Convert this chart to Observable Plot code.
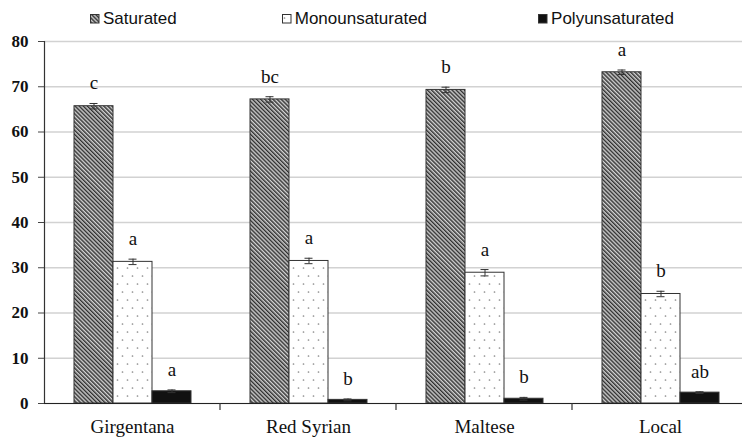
<!DOCTYPE html>
<html>
<head>
<meta charset="utf-8">
<script src="https://cdn.jsdelivr.net/npm/d3@7"></script>
<script src="https://cdn.jsdelivr.net/npm/@observablehq/plot@0.6"></script>
<style>
  html, body { margin: 0; padding: 0; background: #fff; }
  #wrap { width: 742px; height: 437px; position: relative; overflow: hidden; }
  #legend { height: 32px; box-sizing: border-box; padding-top: 5px; display: flex; align-items: center; padding-left: 90px; gap: 105px;
    font-family: "Liberation Sans", Arial, sans-serif; font-size: 17px; color: #111; }
  #legend .item { display: flex; align-items: center; gap: 3px; white-space: nowrap; }
  #legend .item:last-child { margin-left: 6px; }
  #legend svg { display: block; }
</style>
</head>
<body>
<svg width="0" height="0" style="position:absolute">
  <defs>
    <pattern id="hatch" patternUnits="userSpaceOnUse" width="2.9" height="2.9" patternTransform="rotate(-45)">
      <rect width="2.9" height="2.9" fill="#d2d2d2"></rect>
      <rect width="1.45" height="2.9" fill="#303030"></rect>
    </pattern>
    <pattern id="dots" patternUnits="userSpaceOnUse" width="10" height="16">
      <rect width="10" height="16" fill="#fff"></rect>
      <circle cx="2.5" cy="4" r="0.85" fill="#8a8a8a"></circle>
      <circle cx="7.5" cy="12" r="0.85" fill="#8a8a8a"></circle>
    </pattern>
  </defs>
</svg>
<div id="wrap">
  <div id="legend"></div>
  <div id="chart"></div>
</div>
<script>
const categories = ["Girgentana", "Red Syrian", "Maltese", "Local"];
const series = ["Saturated", "Monounsaturated", "Polyunsaturated"];
const saturated = [65.7, 67.2, 69.3, 73.2];
const saturatedErr = [0.6, 0.6, 0.6, 0.5];
const monounsaturated = [31.3, 31.5, 28.9, 24.2];
const monounsaturatedErr = [0.6, 0.6, 0.7, 0.6];
const polyunsaturated = [2.7, 0.8, 1.05, 2.4];
const polyunsaturatedErr = [0.3, 0.2, 0.3, 0.2];
const saturatedLetters = ["c", "bc", "b", "a"];
const monounsaturatedLetters = ["a", "a", "a", "b"];
const polyunsaturatedLetters = ["a", "b", "b", "ab"];
const yTicks = [0, 10, 20, 30, 40, 50, 60, 70, 80];
const seriesFills = ["url(#hatch)", "url(#dots)", "#111"];

const values = [saturated, monounsaturated, polyunsaturated];
const errs = [saturatedErr, monounsaturatedErr, polyunsaturatedErr];
const letters = [saturatedLetters, monounsaturatedLetters, polyunsaturatedLetters];

const data = [];
categories.forEach((c, i) => {
  series.forEach((s, j) => {
    data.push({category: c, series: s, value: values[j][i], err: errs[j][i], letter: letters[j][i]});
  });
});

// legend
const legend = document.getElementById("legend");
series.forEach((s, j) => {
  const item = document.createElement("div");
  item.className = "item";
  item.innerHTML = `<svg width="10" height="10"><rect x="0.5" y="0.5" width="8.5" height="8.5" fill="${seriesFills[j]}" stroke="#333" stroke-width="1"></rect></svg><span>${s}</span>`;
  legend.appendChild(item);
});

const chart = Plot.plot({
  width: 742,
  height: 405,
  marginTop: 9,
  marginBottom: 34,
  marginLeft: 44,
  marginRight: -6,
  style: {background: "transparent"},
  fx: {domain: categories, padding: 0, label: null},
  x: {domain: series, paddingInner: 0, paddingOuter: 0.745, axis: null},
  y: {domain: [0, 80], label: null},
  color: {domain: series, range: seriesFills},
  marks: [
    Plot.gridY(yTicks, {stroke: "#d2d2d2", strokeOpacity: 1, strokeWidth: 1.3}),
    Plot.barY(data, {fx: "category", x: "series", y: "value", fill: "series", stroke: "#333", strokeWidth: 1}),
    Plot.ruleX(data, {fx: "category", x: "series", y1: d => d.value - d.err, y2: d => d.value + d.err, stroke: "#333", strokeWidth: 1}),
    Plot.tickY(data, {fx: "category", x: "series", y: d => d.value + d.err, stroke: "#333", strokeWidth: 1, insetLeft: 15.5, insetRight: 15.5}),
    Plot.tickY(data, {fx: "category", x: "series", y: d => d.value - d.err, stroke: "#333", strokeWidth: 1, insetLeft: 15.5, insetRight: 15.5}),
    Plot.text(data, {fx: "category", x: "series", y: d => d.value + d.err, text: "letter", lineAnchor: "bottom", dy: -14,
      fontFamily: "Liberation Serif, Times New Roman, serif", fontSize: 19, fill: "#111"}),
    Plot.ruleY([0], {stroke: "#222", strokeWidth: 1.2}),
    Plot.axisY({ticks: yTicks, tickSize: 6, tickPadding: 10, stroke: "#444", label: null,
      fontFamily: "Liberation Serif, Times New Roman, serif", fontSize: 17, fontWeight: "bold", fill: "#111"}),
    Plot.axisFx({anchor: "bottom", tickSize: 0, tickPadding: 16, label: null,
      fontFamily: "Liberation Serif, Times New Roman, serif", fontSize: 19, fill: "#111"})
  ]
});

document.getElementById("chart").appendChild(chart);

// y axis line and category boundary ticks, derived from the library's scales
const fx = chart.scale("fx");
const y = chart.scale("y");
const svg = d3.select(chart);
const g = svg.append("g").attr("stroke", "#333").attr("stroke-width", 1.2);
g.append("line")
  .attr("x1", fx.range[0] + 0.5).attr("x2", fx.range[0] + 0.5)
  .attr("y1", y.apply(80)).attr("y2", y.apply(0));
categories.slice(0, -1).forEach(c => {
  const xb = fx.apply(c) + fx.bandwidth;
  g.append("line").attr("x1", xb).attr("x2", xb).attr("y1", y.apply(0)).attr("y2", y.apply(0) + 7);
});
</script>
</body>
</html>
